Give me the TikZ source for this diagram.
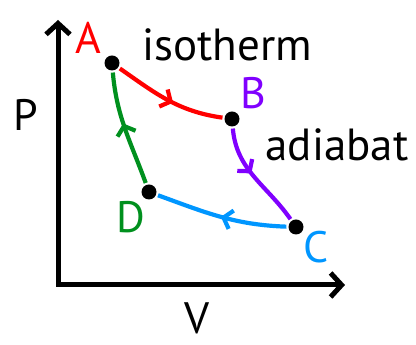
\documentclass[tikz,border=0pt]{standalone}
\usepackage{fontspec}
\setmainfont{PT Sans}
\usetikzlibrary{arrows.meta,decorations.markings}
\definecolor{isored}{HTML}{FF0000}
\definecolor{adiapurple}{HTML}{8000FF}
\definecolor{coldblue}{HTML}{0096FF}
\definecolor{compgreen}{HTML}{00901E}

\begin{document}
\begin{tikzpicture}[x=1pt,y=1pt,line width=4.2pt,every node/.style={inner sep=0pt,font=\fontsize{44}{48}\selectfont},dot/.style={circle,fill=black,minimum size=15pt},word/.style={font=\fontsize{45}{50}\selectfont},axis/.style={line width=5pt,{Straight Barb[length=11pt,width=24pt]}-{Straight Barb[length=11pt,width=24pt]}},flow/.style={postaction={decorate},decoration={markings,mark=at position #1 with {\arrow{Straight Barb[length=8pt,width=19pt]}}}},flow/.default=.5]
\path[use as bounding box] (0,0) rectangle (416,345);

% axes
\coordinate (ytop) at (58,325);
\coordinate (xend) at (345,60);
\draw[axis] (ytop) |- (xend);
\node (P) at (26,230) {P};
\node (V) at (197,27) {V};

% states
\node[dot] (A) at (112,282) {};
\node[dot] (B) at (232,226) {};
\node[dot] (C) at (296,118) {};
\node[dot] (D) at (149,153) {};
\node[text=isored] (lblA) at (88,307) {A};
\node[text=adiapurple] (lblB) at (253,252) {B};
\node[text=coldblue] (lblC) at (316,98) {C};
\node[text=compgreen] (lblD) at (131,128) {D};
\node[word] (iso) at (227,300) {isotherm};
\node[word] (adia) at (337,200) {adiabat};

% cycle
\draw[isored,flow=.55] (A) to[out=-35,in=172] (B);
\draw[adiapurple,flow=.45] (B) to[out=-85,in=125] (C);
\draw[coldblue,flow=.5] (C) to[out=178,in=-20] (D);
\draw[compgreen,flow=.55] (D) to[out=110,in=-85] (A);

\end{tikzpicture}
\end{document}
